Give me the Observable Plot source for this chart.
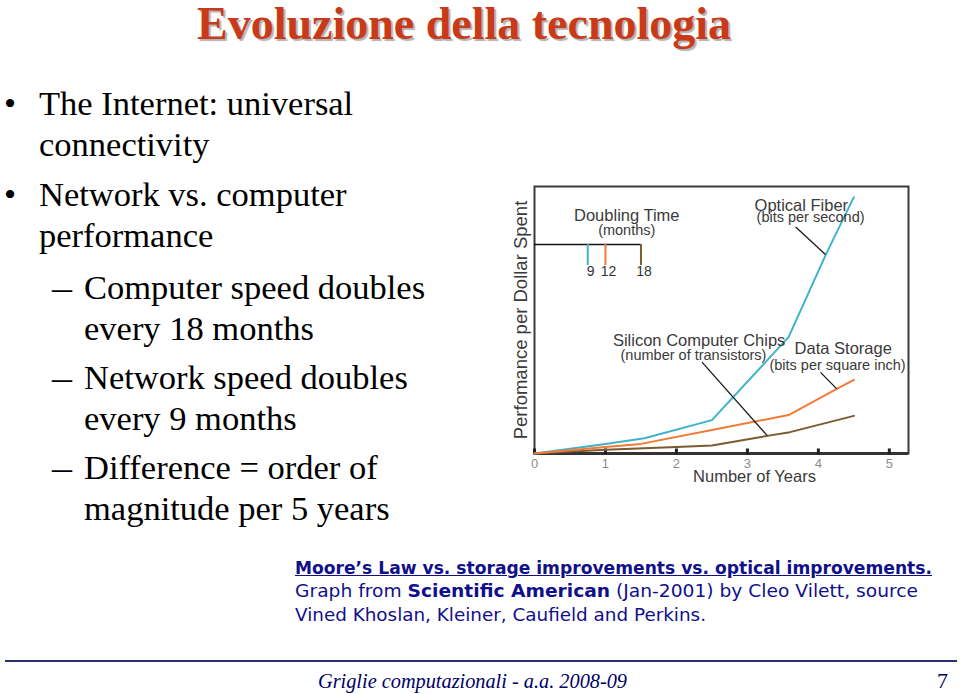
<!DOCTYPE html>
<html><head><meta charset="utf-8">
<script src="https://cdn.jsdelivr.net/npm/d3@7"></script>
<script src="https://cdn.jsdelivr.net/npm/@observablehq/plot@0.6"></script>
<style>
html,body{margin:0;padding:0;background:#fff;}
#slide{position:relative;width:960px;height:694px;overflow:hidden;background:#fff;}
.t{position:absolute;white-space:nowrap;line-height:1;}
#chart{position:absolute;left:500px;top:180px;}
</style>
</head><body>
<div id="slide"><div id="chart"></div></div>
<script>
// ---- chart data ----
const seriesNames = ["Optical Fiber", "Silicon Computer Chips", "Data Storage"];
const seriesColors = ["#3fb3c9", "#7a5a2e", "#f27a36"];
const fiberYears = [0, 1, 1.55, 2.5, 3.58, 4.1, 4.5];
const fiberPerf = [0, 3.6, 5.7, 12.5, 43.6, 74.2, 96.0];
const chipsYears = [0, 1, 2, 2.5, 3.3, 3.6, 4.5];
const chipsPerf = [0, 1.4, 2.4, 3.0, 6.7, 8.0, 14.1];
const storageYears = [0, 1, 1.5, 2.5, 3.58, 4.26, 4.5];
const storagePerf = [0, 2.4, 3.6, 8.8, 14.4, 24.2, 27.6];
const xTicks = [0, 1, 2, 3, 4, 5];
const doublingMonths = [9, 12, 18];
const xLabel = "Number of Years";
const yLabel = "Perfomance per Dollar Spent";

// annotations (data coordinates)
const mainLabels = [
  {text: "Doubling Time", x: 1.30, y: 89.1},
  {text: "Optical Fiber", x: 3.76, y: 92.9},
  {text: "Silicon Computer Chips", x: 2.32, y: 42.3},
  {text: "Data Storage", x: 4.35, y: 39.3}
];
const subLabels = [
  {text: "(months)", x: 1.30, y: 83.5},
  {text: "(bits per second)", x: 3.89, y: 88.4},
  {text: "(number of transistors)", x: 2.24, y: 36.7},
  {text: "(bits per square inch)", x: 4.27, y: 33.0}
];
const leaders = [
  {x1: 3.68, y1: 84.8, x2: 4.10, y2: 74.5},
  {x1: 2.36, y1: 34.2, x2: 3.28, y2: 6.7},
  {x1: 4.03, y1: 30.4, x2: 4.26, y2: 24.2}
];
const legendY = 78.3, legendTickY = 70.4, legendLabelY = 68.3;

const rows = [
  ...fiberYears.map((x, i) => ({series: seriesNames[0], year: x, perf: fiberPerf[i]})),
  ...chipsYears.map((x, i) => ({series: seriesNames[1], year: x, perf: chipsPerf[i]})),
  ...storageYears.map((x, i) => ({series: seriesNames[2], year: x, perf: storagePerf[i]}))
];

const font = "'Liberation Sans', Arial, sans-serif";
const chart = Plot.plot({
  width: 420, height: 310,
  marginLeft: 34, marginRight: 12, marginTop: 6, marginBottom: 37,
  x: {domain: [0, 5.27]},
  y: {domain: [0, 100]},
  color: {domain: seriesNames, range: seriesColors},
  style: {fontFamily: font, background: "transparent", overflow: "visible"},
  marks: [
    Plot.frame({stroke: "#3a3a3a", strokeWidth: 2}),
    Plot.axisX({ticks: xTicks, tickFormat: d => String(d), tickSize: 0, tickPadding: 5, fill: "#8c8c8c", fontSize: 13, label: null}),
    Plot.axisY({ticks: [], label: null}),
    Plot.ruleY([0], {stroke: "#333", strokeWidth: 3}),
    Plot.ruleX(xTicks, {y1: -0.6, y2: 1.7, stroke: "#222", strokeWidth: 3}),
    // doubling-time legend
    Plot.ruleY([legendY], {x1: 0, x2: 1.5, stroke: "#111", strokeWidth: 1.5}),
    Plot.ruleX(doublingMonths, {x: d => d / 12, y1: legendTickY, y2: legendY, stroke: (d, i) => seriesColors[[0, 2, 1][i]], strokeWidth: 2}),
    Plot.text(doublingMonths, {x: d => d / 12, y: legendLabelY, text: d => String(d), dx: 3, fontSize: 14, fill: "#333"}),
    // series
    Plot.line(rows, {x: "year", y: "perf", z: "series", stroke: "series", strokeWidth: 2}),
    // leaders
    Plot.link(leaders, {x1: "x1", y1: "y1", x2: "x2", y2: "y2", stroke: "#1a1a1a", strokeWidth: 1.3}),
    Plot.text(mainLabels, {x: "x", y: "y", text: "text", fontSize: 16.5, fill: "#3a3a3a"}),
    Plot.text(subLabels, {x: "x", y: "y", text: "text", fontSize: 14.5, fill: "#3a3a3a"}),
    Plot.text([xLabel], {frameAnchor: "bottom", lineAnchor: "middle", textAnchor: "middle", dx: 33, dy: 23, fontSize: 16.5, fill: "#3a3a3a"}),
    Plot.text([yLabel], {frameAnchor: "left", textAnchor: "middle", lineAnchor: "middle", rotate: -90, dx: -13, fontSize: 18.5, fill: "#3a3a3a"})
  ]
});
document.getElementById("chart").appendChild(chart);

// ---- slide text ----
const slide = document.getElementById("slide");
function place(html, x, base, fs, family, opts = {}) {
  const el = document.createElement("div");
  el.className = "t";
  el.style.fontFamily = family;
  el.style.fontSize = fs + "px";
  Object.assign(el.style, opts.style || {});
  el.innerHTML = html + '<span style="display:inline-block;width:0;height:0;vertical-align:baseline"></span>';
  el.style.left = x + "px";
  el.style.top = "0px";
  slide.appendChild(el);
  const b = el.lastChild.offsetTop;
  el.style.top = (base - b) + "px";
  if (opts.w) {
    const w = el.getBoundingClientRect().width;
    el.style.transformOrigin = "0 0";
    el.style.transform = `scaleX(${opts.w / w})`;
  }
  return el;
}
const serif = "'Liberation Serif', 'Times New Roman', serif";
place("Evoluzione della tecnologia", 197, 39, 46, serif, {w: 534, style: {fontWeight: "bold", color: "#c83a1a", textShadow: "2px 2px 1px rgba(0,0,0,0.3)"}});

const bullets = [["The Internet: universal", 115], ["connectivity", 156], ["Network vs. computer", 206], ["performance", 247]];
bullets.forEach(([t, b]) => place(t, 39, b, 34.5, serif, {style: {color: "#000"}}));
place("•", 4, 115, 34.5, serif);
place("•", 4, 206, 34.5, serif);
const subs = [["Computer speed doubles", 299], ["every 18 months", 340], ["Network speed doubles", 389], ["every 9 months", 430], ["Difference = order of", 479], ["magnitude per 5 years", 520]];
subs.forEach(([t, b]) => place(t, 84, b, 34.5, serif));
[299, 389, 479].forEach(b => place("–", 52, b, 34.5, serif, {w: 20}));

const cap = "'DejaVu Sans', sans-serif";
const navy = "#10108a";
place("Moore’s Law vs. storage improvements vs. optical improvements.", 295, 574, 17, cap, {w: 637, style: {fontWeight: "bold", textDecoration: "underline", color: navy}});
place("Graph from <b>Scientific American</b> (Jan-2001) by Cleo Vilett, source", 295, 597, 17, cap, {w: 623, style: {color: navy}});
place("Vined Khoslan, Kleiner, Caufield and Perkins.", 295, 621, 17, cap, {w: 411, style: {color: navy}});

const rule = document.createElement("div");
Object.assign(rule.style, {position: "absolute", left: "5px", top: "660px", width: "952px", height: "2px", background: "#2e2e70"});
slide.appendChild(rule);
place("Griglie computazionali - a.a. 2008-09", 318, 688, 22, serif, {w: 309, style: {fontStyle: "italic", color: "#000066"}});
place("7", 937, 688, 22, serif, {style: {color: "#000066"}});
</script>
</body></html>
